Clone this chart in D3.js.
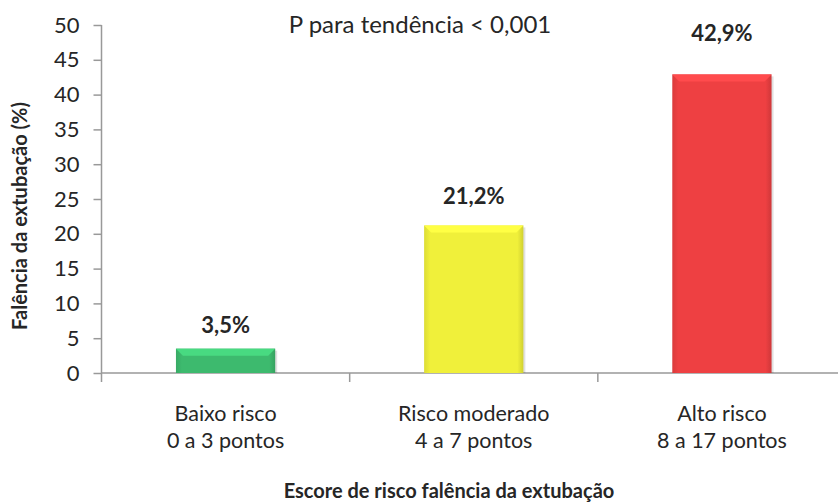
<!DOCTYPE html>
<html>
<head>
<meta charset="utf-8">
<script src="https://cdn.jsdelivr.net/npm/d3@7"></script>
<style>
  body { margin: 0; background: #fff; }
  text { font-family: Lato, "Open Sans", sans-serif; fill: #262626; }
</style>
</head>
<body>
<svg id="chart"></svg>
<script>
// chart data
var categories = ["Baixo risco", "Risco moderado", "Alto risco"];
var subLabels = ["0 a 3 pontos", "4 a 7 pontos", "8 a 17 pontos"];
var values = [3.5, 21.2, 42.9];
var valueLabels = ["3,5%", "21,2%", "42,9%"];
var barColors = ["#3dba6e", "#f0f03a", "#ee4042"];
var yTicks = [0, 5, 10, 15, 20, 25, 30, 35, 40, 45, 50];
var titleText = "P para tendência < 0,001";
var yTitle = "Falência da extubação (%)";
var xTitle = "Escore de risco falência da extubação";

var width = 838, height = 504;
var margin = { top: 25, right: -8, bottom: 131, left: 101.5 };

var svg = d3.select("#chart")
  .attr("width", width)
  .attr("height", height);

var x = d3.scaleBand()
  .domain(categories)
  .range([margin.left, width - margin.right])
  .paddingInner(0.6)
  .paddingOuter(0.3);

var y = d3.scaleLinear()
  .domain([0, 50])
  .range([height - margin.bottom, margin.top]);

var y0 = y(0);

// gradients / bevel colours
var defs = svg.append("defs");
barColors.forEach(function(c, i) {
  var g = defs.append("linearGradient")
    .attr("id", "grad" + i)
    .attr("x1", 0).attr("x2", 1).attr("y1", 0).attr("y2", 0);
  g.append("stop").attr("offset", "0%").attr("stop-color", d3.color(c).darker(0.25));
  g.append("stop").attr("offset", "6%").attr("stop-color", c);
  g.append("stop").attr("offset", "94%").attr("stop-color", c);
  g.append("stop").attr("offset", "100%").attr("stop-color", d3.color(c).darker(0.4));
});

// y axis
var yAxis = svg.append("g")
  .attr("transform", "translate(" + margin.left + ",0)")
  .call(d3.axisLeft(y).tickValues(yTicks).tickSize(8).tickPadding(14).tickSizeOuter(0));
yAxis.select(".domain").attr("stroke", "#999").attr("stroke-width", 1.5)
  .attr("d", "M0," + y(50) + "V" + (y0 + 9));
yAxis.selectAll(".tick line").attr("stroke", "#999").attr("stroke-width", 1.5);
yAxis.selectAll(".tick text")
  .style("font-size", "22px")
  .attr("fill", "#262626");

// x axis line + boundary ticks
var bounds = [1, 2].map(function(k) { return margin.left + k * (width - margin.right - margin.left) / categories.length; });
svg.append("line")
  .attr("x1", margin.left).attr("x2", width)
  .attr("y1", y0).attr("y2", y0)
  .attr("stroke", "#999").attr("stroke-width", 1.5);
svg.selectAll(".xtick")
  .data(bounds)
  .join("line")
  .attr("class", "xtick")
  .attr("x1", function(d) { return d; }).attr("x2", function(d) { return d; })
  .attr("y1", y0).attr("y2", y0 + 9)
  .attr("stroke", "#999").attr("stroke-width", 1.5);

// bars
var bars = svg.append("g").selectAll("g")
  .data(values)
  .join("g");

bars.append("rect")
  .attr("x", function(d, i) { return x(categories[i]) + 2; })
  .attr("y", function(d) { return y(d) + 2; })
  .attr("width", x.bandwidth())
  .attr("height", function(d) { return y0 - y(d) - 2; })
  .attr("fill", "rgba(0,0,0,0.12)");

bars.append("rect")
  .attr("x", function(d, i) { return x(categories[i]); })
  .attr("y", function(d) { return y(d); })
  .attr("width", x.bandwidth())
  .attr("height", function(d) { return y0 - y(d); })
  .attr("fill", function(d, i) { return "url(#grad" + i + ")"; });

// top bevel
bars.append("path")
  .attr("d", function(d, i) {
    var x0 = x(categories[i]), x1 = x0 + x.bandwidth(), t = y(d), b = 7;
    return "M" + x0 + "," + t + "H" + x1 + "L" + (x1 - b) + "," + (t + b) + "H" + (x0 + b) + "Z";
  })
  .attr("fill", function(d, i) { return d3.color(barColors[i]).brighter(0.45); });

// value labels
var labelGap = [16, 21, 33];
svg.selectAll(".vlabel")
  .data(values)
  .join("text")
  .attr("class", "vlabel")
  .attr("x", function(d, i) { return x(categories[i]) + x.bandwidth() / 2; })
  .attr("y", function(d, i) { return y(d) - labelGap[i]; })
  .attr("text-anchor", "middle")
  .style("font-size", "22px")
  .style("font-weight", "bold")
  .text(function(d, i) { return valueLabels[i]; });

// category labels
var cat = svg.selectAll(".cat")
  .data(categories)
  .join("text")
  .attr("class", "cat")
  .attr("text-anchor", "middle")
  .style("font-size", "21.5px");
cat.append("tspan")
  .attr("x", function(d) { return x(d) + x.bandwidth() / 2; })
  .attr("y", 421)
  .text(function(d) { return d; });
cat.append("tspan")
  .attr("x", function(d) { return x(d) + x.bandwidth() / 2; })
  .attr("y", 448)
  .text(function(d, i) { return subLabels[i]; });

// titles
svg.append("text")
  .attr("x", 420).attr("y", 33)
  .attr("text-anchor", "middle")
  .style("font-size", "24px")
  .text(titleText);

svg.append("text")
  .attr("transform", "translate(27,216) rotate(-90)")
  .attr("text-anchor", "middle")
  .style("font-size", "20px")
  .style("font-weight", "bold")
  .text(yTitle);

svg.append("text")
  .attr("x", 449).attr("y", 498)
  .attr("text-anchor", "middle")
  .style("font-size", "20px")
  .style("font-weight", "bold")
  .text(xTitle);
</script>
</body>
</html>
